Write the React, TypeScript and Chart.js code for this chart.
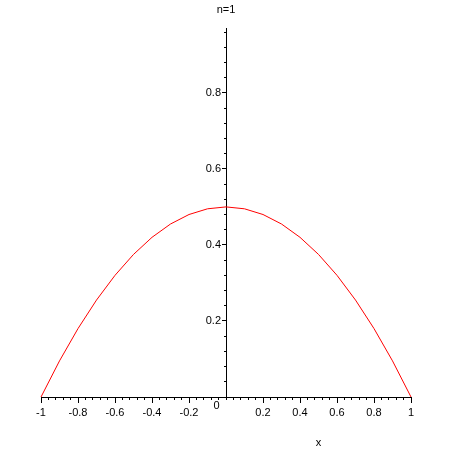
import React, { useEffect, useRef } from 'react';
import { Chart, registerables } from 'chart.js';

Chart.register(...registerables);

// curve
const xValues = [-1, -0.9, -0.8, -0.7, -0.6, -0.5, -0.4, -0.3, -0.2, -0.1, 0, 0.1, 0.2, 0.3, 0.4, 0.5, 0.6, 0.7, 0.8, 0.9, 1];
const yValues = [0, 0.095, 0.18, 0.255, 0.32, 0.375, 0.42, 0.455, 0.48, 0.495, 0.5, 0.495, 0.48, 0.455, 0.42, 0.375, 0.32, 0.255, 0.18, 0.095, 0];

// axis ticks
const xTickLabels = [-1, -0.8, -0.6, -0.4, -0.2, 0.2, 0.4, 0.6, 0.8, 1];
const yTickLabels = [0.2, 0.4, 0.6, 0.8];
const minorStep = 0.04;
const xRange = [-1, 1];
const yRange = [0, 0.97];
const xNameAt = 0.5;

const FONT = { family: '"Liberation Sans", Arial, sans-serif', size: 11 };

const fixedTicks = (values: number[]) => (scale: any) => {
  scale.ticks = values.map(v => ({ value: v }));
};

const fmt = (v: number | string) => String(Math.round(Number(v) * 10) / 10);

export default function App() {
  const canvasRef = useRef<HTMLCanvasElement>(null);
  const chartRef = useRef<Chart | null>(null);

  useEffect(() => {
    if (!canvasRef.current) return;
    if (chartRef.current) chartRef.current.destroy();

    const xBase = { type: 'linear' as const, axis: 'x' as const, position: { y: 0 }, min: xRange[0], max: xRange[1] };
    const yBase = { type: 'linear' as const, axis: 'y' as const, position: { x: 0 }, min: yRange[0], max: yRange[1] };
    // labels of a centred y axis sit right on the line, so they get their own axis a few px to the left
    const yLabelBase = { ...yBase, position: { x: -0.027 } };
    const noLine = { grid: { display: false, drawTicks: false }, border: { display: false } };

    chartRef.current = new Chart(canvasRef.current, {
      type: 'line',
      data: {
        datasets: [
          {
            data: xValues.map((x, i) => ({ x, y: yValues[i] })),
            borderColor: '#ff0000',
            borderWidth: 1,
            pointRadius: 0,
            tension: 0,
            fill: false,
            clip: false,
            xAxisID: 'x',
            yAxisID: 'y',
          },
        ],
      },
      options: {
        animation: false,
        responsive: true,
        maintainAspectRatio: false,
        layout: { padding: { left: 41, right: 39, top: 0, bottom: 53 } },
        plugins: {
          legend: { display: false },
          tooltip: { enabled: false },
          title: {
            display: true,
            text: 'n=1',
            color: '#000',
            font: { ...FONT, weight: 'normal' },
            padding: { top: 3, bottom: 12 },
          },
        },
        scales: {
          x: {
            ...xBase,
            afterBuildTicks: fixedTicks(xTickLabels),
            grid: { drawOnChartArea: false, tickLength: 5, color: '#000' },
            border: { color: '#000', width: 1 },
            ticks: { color: '#000', font: FONT, padding: 4, maxRotation: 0, autoSkip: false, callback: fmt },
          },
          xMinor: {
            ...xBase,
            grid: { drawOnChartArea: false, tickLength: 3, color: '#000' },
            border: { display: false },
            ticks: { display: false, stepSize: minorStep, includeBounds: false },
          },
          xName: {
            ...xBase,
            ...noLine,
            afterBuildTicks: fixedTicks([xNameAt]),
            ticks: { color: '#000', font: FONT, padding: 39, callback: () => 'x' },
          },
          y: {
            ...yBase,
            afterBuildTicks: fixedTicks(yTickLabels),
            grid: { drawOnChartArea: false, tickLength: 4, color: '#000' },
            border: { color: '#000', width: 1 },
            ticks: { display: false },
          },
          yMinor: {
            ...yBase,
            grid: { drawOnChartArea: false, tickLength: 2, color: '#000' },
            border: { display: false },
            ticks: { display: false, stepSize: minorStep, includeBounds: false },
          },
          yLabels: {
            ...yLabelBase,
            ...noLine,
            afterBuildTicks: fixedTicks(yTickLabels),
            ticks: { color: '#000', font: FONT, callback: fmt },
          },
          yZero: {
            ...yBase,
            ...noLine,
            position: { x: -0.034 },
            afterBuildTicks: fixedTicks([0]),
            ticks: { color: '#000', font: FONT, labelOffset: 9, callback: () => '0' },
          },
        },
      },
    });

    return () => {
      if (chartRef.current) {
        chartRef.current.destroy();
        chartRef.current = null;
      }
    };
  }, []);

  return (
    <div style={{ position: 'absolute', left: 0, top: 0, width: 450, height: 450, background: '#fff' }}>
      <canvas ref={canvasRef}></canvas>
    </div>
  );
}
